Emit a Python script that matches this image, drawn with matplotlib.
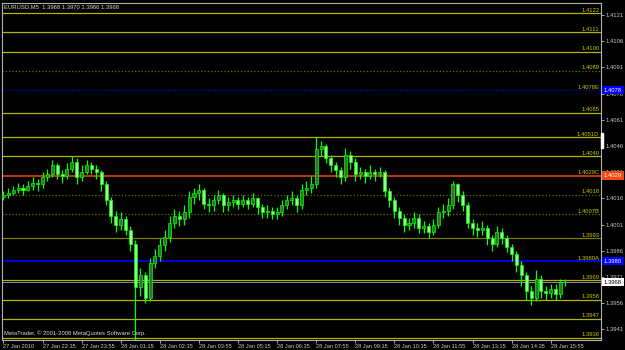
import numpy as np
import pandas as pd
import matplotlib
matplotlib.use("Agg")
import matplotlib.pyplot as plt
import matplotlib.transforms as mtransforms
from matplotlib.patches import Rectangle

# EURUSD 10 minute bars, 27 Jan 2010 21:15 -> 28 Jan 16:25
first_open = 1.4017
closes = [1.4018, 1.4019, 1.4021, 1.4022, 1.4021, 1.4023, 1.4025, 1.4024, 1.4028, 1.4030,
          1.4035, 1.4030, 1.4029, 1.4033, 1.4037, 1.4028, 1.4031, 1.4035, 1.4033, 1.4031,
          1.4024, 1.4015, 1.4006, 1.4001, 1.4004, 1.3998, 1.3990, 1.3965, 1.3972, 1.3959,
          1.3979, 1.3983, 1.3989, 1.3994, 1.4002, 1.4006, 1.4004, 1.4008, 1.4017, 1.4019,
          1.4021, 1.4013, 1.4012, 1.4015, 1.4018, 1.4012, 1.4014, 1.4015, 1.4013, 1.4015,
          1.4013, 1.4016, 1.4011, 1.4008, 1.4009, 1.4007, 1.4008, 1.4012, 1.4015, 1.4016,
          1.4012, 1.4021, 1.4022, 1.4024, 1.4044, 1.4046, 1.4039, 1.4035, 1.4032, 1.4028,
          1.4041, 1.4037, 1.4030, 1.4031, 1.4029, 1.4031, 1.4030, 1.4031, 1.4020, 1.4015,
          1.4009, 1.4005, 1.4001, 1.4002, 1.4005, 1.3999, 1.4000, 1.3997, 1.4001, 1.4008,
          1.4009, 1.4012, 1.4024, 1.4018, 1.4012, 1.4002, 1.3999, 1.3998, 1.3999, 1.3993,
          1.3990, 1.3997, 1.3993, 1.3988, 1.3984, 1.3978, 1.3972, 1.3963, 1.3959, 1.3970,
          1.3963, 1.3962, 1.3964, 1.3961, 1.3968, 1.3968]
highs = [1.4020, 1.4022, 1.4023, 1.4025, 1.4024, 1.4026, 1.4028, 1.4027, 1.4031, 1.4033,
         1.4038, 1.4036, 1.4032, 1.4036, 1.4040, 1.4039, 1.4035, 1.4038, 1.4037, 1.4035,
         1.4032, 1.4026, 1.4017, 1.4009, 1.4008, 1.4006, 1.4000, 1.3992, 1.3976, 1.3974,
         1.3982, 1.3987, 1.3993, 1.3998, 1.4006, 1.4010, 1.4009, 1.4012, 1.4020, 1.4022,
         1.4024, 1.4022, 1.4016, 1.4018, 1.4021, 1.4019, 1.4017, 1.4018, 1.4017, 1.4018,
         1.4017, 1.4019, 1.4017, 1.4013, 1.4012, 1.4011, 1.4011, 1.4015, 1.4018, 1.4020,
         1.4018, 1.4024, 1.4026, 1.4029, 1.4051, 1.4049, 1.4047, 1.4041, 1.4037, 1.4034,
         1.4045, 1.4043, 1.4039, 1.4034, 1.4033, 1.4035, 1.4033, 1.4034, 1.4032, 1.4022,
         1.4017, 1.4011, 1.4007, 1.4005, 1.4008, 1.4007, 1.4003, 1.4002, 1.4004, 1.4011,
         1.4013, 1.4016, 1.4026, 1.4025, 1.4020, 1.4014, 1.4004, 1.4002, 1.4003, 1.4001,
         1.3995, 1.4000, 1.3999, 1.3995, 1.3990, 1.3986, 1.3980, 1.3974, 1.3966, 1.3975,
         1.3972, 1.3966, 1.3967, 1.3967, 1.3970, 1.3970]
lows = [1.4015, 1.4016, 1.4018, 1.4019, 1.4018, 1.4020, 1.4021, 1.4020, 1.4022, 1.4026,
        1.4028, 1.4027, 1.4025, 1.4027, 1.4031, 1.4024, 1.4026, 1.4030, 1.4030, 1.4027,
        1.4020, 1.4012, 1.4002, 1.3997, 1.3998, 1.3995, 1.3986, 1.3932, 1.3960, 1.3956,
        1.3957, 1.3976, 1.3980, 1.3986, 1.3991, 1.3999, 1.4000, 1.4001, 1.4005, 1.4013,
        1.4015, 1.4010, 1.4008, 1.4009, 1.4013, 1.4008, 1.4009, 1.4011, 1.4010, 1.4011,
        1.4010, 1.4011, 1.4007, 1.4005, 1.4005, 1.4004, 1.4004, 1.4006, 1.4010, 1.4012,
        1.4008, 1.4010, 1.4018, 1.4019, 1.4022, 1.4040, 1.4036, 1.4031, 1.4028, 1.4024,
        1.4026, 1.4033, 1.4026, 1.4027, 1.4025, 1.4027, 1.4026, 1.4028, 1.4017, 1.4011,
        1.4005, 1.4001, 1.3997, 1.3998, 1.3999, 1.3996, 1.3996, 1.3993, 1.3995, 1.3999,
        1.4005, 1.4006, 1.4010, 1.4014, 1.4009, 1.3999, 1.3995, 1.3994, 1.3995, 1.3989,
        1.3986, 1.3988, 1.3990, 1.3985, 1.3980, 1.3974, 1.3966, 1.3958, 1.3955, 1.3957,
        1.3959, 1.3958, 1.3959, 1.3958, 1.3959, 1.3966]

# horizontal levels drawn on the chart
level_prices = [1.4122, 1.4111, 1.4100, 1.4089, 1.4078, 1.4065, 1.4051, 1.4040, 1.4029,
                1.4018, 1.4007, 1.3993, 1.3980, 1.3969, 1.3958, 1.3947, 1.3936]
level_names = ["1.4122", "1.4111", "1.4100", "1.4089", "1.4078E", "1.4065", "1.4051D", "1.4040",
               "1.4029C", "1.4018", "1.4007B", "1.3993", "1.3980A", "1.3969", "1.3958", "1.3947",
               "1.3936"]

price_ticks = [1.4121, 1.4106, 1.4091, 1.4076, 1.4061, 1.4046, 1.4031, 1.4016, 1.4001,
               1.3986, 1.3971, 1.3956, 1.3941]
time_labels = ["27 Jan 2010", "27 Jan 22:35", "27 Jan 23:55", "28 Jan 01:15", "28 Jan 02:35",
               "28 Jan 03:55", "28 Jan 05:15", "28 Jan 06:35", "28 Jan 07:55", "28 Jan 09:15",
               "28 Jan 10:35", "28 Jan 11:55", "28 Jan 13:15", "28 Jan 14:35", "28 Jan 15:55"]

bid = 1.3968
marker_prices = [1.4078, 1.4029, 1.3980]

plt.rcParams["font.family"] = ["Liberation Sans", "DejaVu Sans"]

c = np.array(closes)
h = np.array(highs)
l = np.array(lows)
o = np.concatenate([[first_open], c[:-1]])
h = np.maximum(h, np.maximum(o, c))
l = np.minimum(l, np.minimum(o, c))
times = pd.date_range("2010-01-27 21:15", periods=len(c), freq="10min")
x = np.arange(len(c))

fig = plt.figure(figsize=(6.25, 3.5), dpi=100, facecolor="black")
ax = fig.add_axes([2 / 625, 10 / 350, 599 / 625, 337 / 350], facecolor="black")
ax.set_xlim(-0.3, 122.3)
ax.set_ylim(1.393486, 1.412787)

ytrans = mtransforms.blended_transform_factory(ax.transAxes, ax.transData)
ftrans = mtransforms.blended_transform_factory(fig.transFigure, ax.transData)

# level lines with their names
styles = {"1.4089": ("#6c6c00", ":"), "1.4018": ("#6c6c00", ":"), "1.4007B": ("#6c6c00", ":"),
          "1.3993": ("#7c7c00", "-"), "1.4078E": ("#0000ff", ":"), "1.4029C": ("#e0400c", "-"),
          "1.3980A": ("#0000ff", "-")}
for p, name in zip(level_prices, level_names):
    col, ls = styles.get(name, ("#b4b400", "-"))
    lw = 1.2 if name in ("1.4029C", "1.3980A") else 0.9
    ax.axhline(p, color=col, ls=ls, lw=lw, zorder=1)
    ax.text(0.997, p + 0.00003, name, transform=ytrans, ha="right", va="bottom",
            fontsize=4.2, color="#c8c800", zorder=2)

ax.axhline(bid, color="#909090", lw=0.7, zorder=1)

# candles
up = c >= o
ax.vlines(x, l, h, color="#00ff00", lw=0.9, zorder=3)
ax.bar(x[up], np.maximum(c - o, 0.00002)[up], bottom=o[up], width=0.62,
       color="#2a7a2a", edgecolor="#00ff00", lw=0.5, zorder=4)
ax.bar(x[~up], (o - c)[~up], bottom=c[~up], width=0.62,
       color="#90ff90", edgecolor="#00ff00", lw=0.5, zorder=4)

# axes
for s in ax.spines.values():
    s.set_color("#b0b0b0")
    s.set_linewidth(0.8)
ax.yaxis.tick_right()
ax.set_yticks(price_ticks)
ax.set_yticklabels([f"{p:.4f}" for p in price_ticks])
ax.tick_params(axis="y", colors="#c8c8c8", labelsize=4.2, length=2, width=0.6, pad=1.5)
tick_pos = [i for i, t in enumerate(times) if i % 8 == 0]
ax.set_xticks(tick_pos)
ax.set_xticklabels(time_labels, ha="left")
ax.tick_params(axis="x", colors="#c8c8c8", labelsize=4.1, length=2, width=0.6, pad=0.8)

# price markers on the scale
marker_cols = ["#0000ff", "#f04a10", "#0000ff"]
for p, col in zip(marker_prices, marker_cols):
    fig.text(604 / 625, p, f"{p:.4f}", transform=ftrans, ha="left", va="center",
             fontsize=4.2, color="white", zorder=10,
             bbox=dict(boxstyle="square,pad=0.3", fc=col, ec="none"))
fig.text(604 / 625, bid, f"{bid:.4f}", transform=ftrans, ha="left", va="center",
         fontsize=4.2, color="black", zorder=10,
         bbox=dict(boxstyle="square,pad=0.3", fc="white", ec="none"))
fig.add_artist(Rectangle((601 / 625, 1 - 148 / 350), 2 / 625, 15 / 350, color="white"))

fig.text(4 / 625, 1 - 7 / 350, "EURUSD,M5  1.3968 1.3970 1.3966 1.3968",
         fontsize=4.2, color="#d8d8d8", va="center", ha="left")
fig.text(4 / 625, 1 - 333 / 350, "MetaTrader, \u00a9 2001-2008 MetaQuotes Software Corp.",
         fontsize=4.2, color="#d8d8d8", va="center", ha="left")

fig.savefig("out.png", dpi=100, facecolor="black")
